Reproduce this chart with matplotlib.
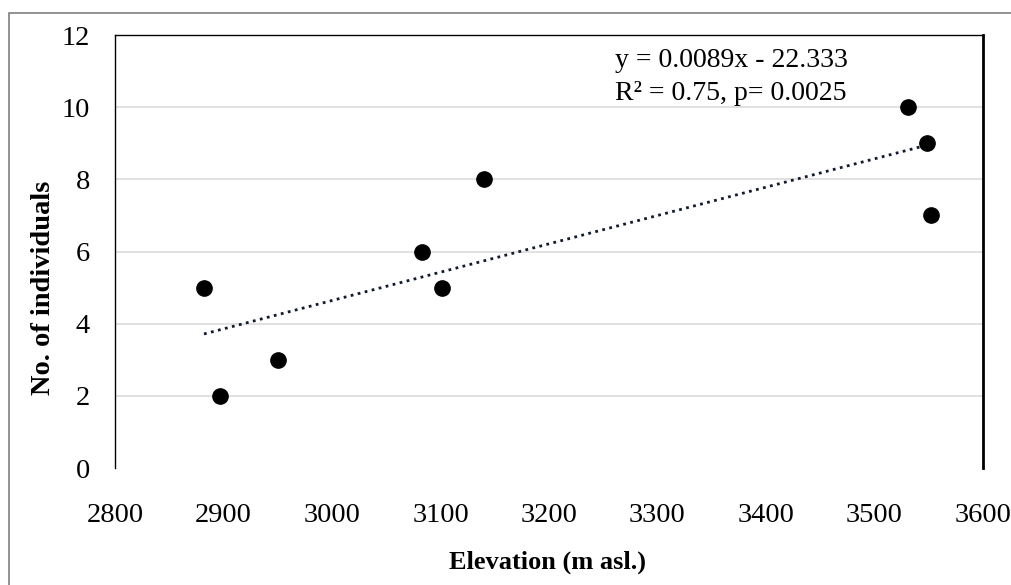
import numpy as np
import matplotlib
matplotlib.use('Agg')
import matplotlib.pyplot as plt
from matplotlib.patches import Rectangle

# Data
elevation = [2882, 2897, 2950, 3083, 3101, 3140, 3531, 3548, 3552]
individuals = [5, 2, 3, 6, 5, 8, 10, 9, 7]
x_ticks = [2800, 2900, 3000, 3100, 3200, 3300, 3400, 3500, 3600]
y_ticks = [0, 2, 4, 6, 8, 10, 12]
equation = 'y = 0.0089x - 22.333'
stats = 'R\u00b2 = 0.75, p= 0.0025'

plt.rcParams['font.family'] = ['Liberation Serif', 'DejaVu Serif']

fig = plt.figure(figsize=(10.12, 5.85), dpi=100)
ax = fig.add_axes([115 / 1012, 1 - 468 / 585, 868 / 1012, 433 / 585])

# outer frame of the figure (runs off the right and bottom edges)
fig.patches.append(Rectangle((9 / 1012, -0.05), 1.2, 1 - 13 / 585 + 0.05,
                             transform=fig.transFigure, fill=False,
                             edgecolor='#7f7f7f', linewidth=1.2))

# gridlines
for v in y_ticks[1:-1]:
    ax.axhline(v, color='#d9d9d9', linewidth=1.1, zorder=0)

# points
ax.plot(elevation, individuals, 'o', color='black', markersize=11, zorder=3)

# linear trend line
coef = np.polyfit(elevation, individuals, 1)
xs = np.array([min(elevation), max(elevation)])
ax.plot(xs, np.polyval(coef, xs), color='#111a2e', linewidth=2.0,
        linestyle=(0, (1, 1.6)), zorder=2)

ax.text(0.576, 0.942, equation, transform=ax.transAxes, fontsize=20, va='center')
ax.text(0.576, 0.866, stats, transform=ax.transAxes, fontsize=20, va='center')

ax.set_xlim(2800, 3600)
ax.set_ylim(0, 12)
ax.set_xticks(x_ticks)
ax.set_yticks(y_ticks)
ax.tick_params(axis='both', length=0, labelsize=20.5)
ax.tick_params(axis='y', pad=18)
ax.tick_params(axis='x', pad=25)

ax.spines['bottom'].set_visible(False)
ax.spines['top'].set_linewidth(1.0)
ax.spines['left'].set_linewidth(1.0)
ax.spines['right'].set_linewidth(2.0)

fig.text(548 / 1012, 1 - 562 / 585, 'Elevation (m asl.)',
         fontsize=19, fontweight='bold', ha='center', va='center')
fig.text(44 / 1012, 1 - 288 / 585, 'No. of individuals', fontsize=20.5,
         fontweight='bold', rotation=90, ha='center', va='center')

fig.savefig('out.png', dpi=100)
